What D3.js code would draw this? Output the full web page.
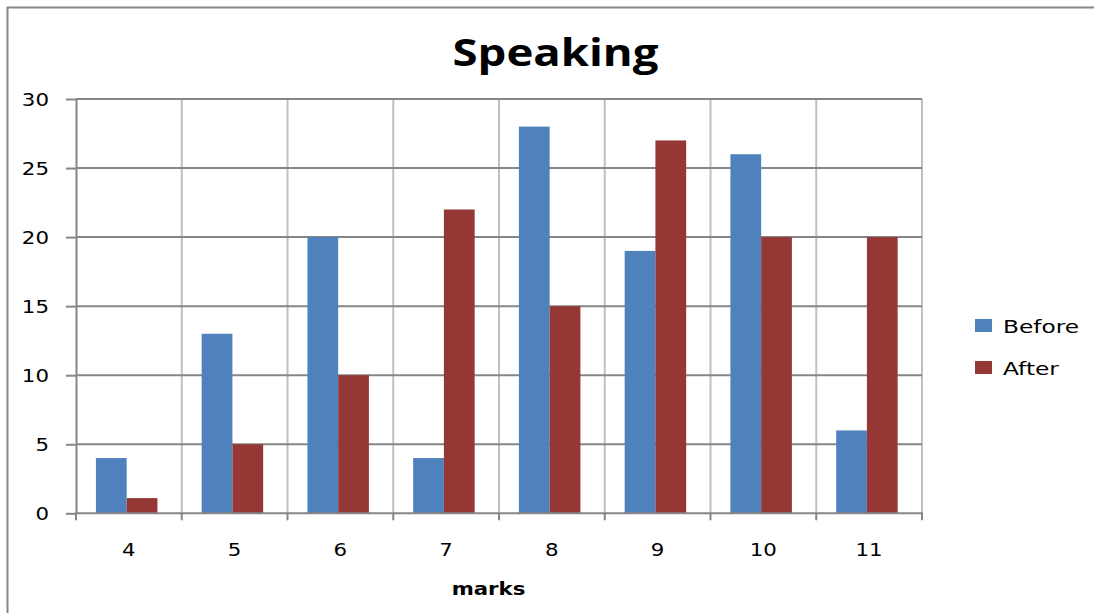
<!DOCTYPE html>
<html>
<head>
<meta charset="utf-8">
<script src="https://cdn.jsdelivr.net/npm/d3@7/dist/d3.min.js"></script>
<style>
  html, body { margin: 0; padding: 0; background: #fff; }
  svg { display: block; }
</style>
</head>
<body>
<svg id="chart" width="1094" height="613"></svg>
<script>
// Speaking marks: number of students per mark, before and after
const categories = ["4", "5", "6", "7", "8", "9", "10", "11"];
const seriesNames = ["Before", "After"];
const before = [4, 13, 20, 4, 28, 19, 26, 6];
const after = [1.1, 5, 10, 22, 15, 27, 20, 20];
const yTicks = [0, 5, 10, 15, 20, 25, 30];

const colors = { Before: "#4F81BD", After: "#953735" };
const FONT = "'DejaVu Sans', Verdana, sans-serif";
const SX = 1.22; // horizontal stretch of the label type

const svg = d3.select("#chart");
const plot = { left: 76, right: 922, top: 99, bottom: 513.3 };

// outer chart frame
svg.append("rect")
  .attr("x", 7.5).attr("y", 7.5)
  .attr("width", 1090).attr("height", 620)
  .attr("fill", "#fff")
  .attr("stroke", "#868686").attr("stroke-width", 2);

const x0 = d3.scaleBand().domain(categories).range([plot.left, plot.right]).padding(0);
const x1 = d3.scaleBand().domain(seriesNames).range([0, x0.bandwidth()])
  .paddingInner(0).paddingOuter(0.72).align(0.45);
const y = d3.scaleLinear().domain([0, 30]).range([plot.bottom, plot.top]);

// vertical gridlines at category boundaries
const bounds = categories.map(c => x0(c)).concat([plot.right]);
svg.append("g").selectAll("line").data(bounds.slice(1)).join("line")
  .attr("x1", d => d).attr("x2", d => d)
  .attr("y1", plot.top).attr("y2", plot.bottom)
  .attr("stroke", "#c0c0c0").attr("stroke-width", 2);

// horizontal gridlines
svg.append("g").selectAll("line").data(yTicks.filter(t => t > 0)).join("line")
  .attr("x1", plot.left).attr("x2", plot.right)
  .attr("y1", d => y(d)).attr("y2", d => y(d))
  .attr("stroke", "#868686").attr("stroke-width", 2);

// bars
const rows = categories.map((c, i) => ({ cat: c, values: [
  { key: "Before", value: before[i] },
  { key: "After", value: after[i] }
]}));
svg.append("g").selectAll("g").data(rows).join("g")
  .attr("transform", d => `translate(${x0(d.cat)},0)`)
  .selectAll("rect").data(d => d.values).join("rect")
  .attr("x", d => x1(d.key))
  .attr("width", x1.bandwidth())
  .attr("y", d => y(d.value))
  .attr("height", d => y(0) - y(d.value))
  .attr("fill", d => colors[d.key]);

// y axis
const yAxis = svg.append("g")
  .attr("transform", `translate(${plot.left},0)`)
  .call(d3.axisLeft(y).tickValues(yTicks).tickSize(10).tickSizeOuter(0));
yAxis.select(".domain").attr("stroke", "#868686").attr("stroke-width", 2);
yAxis.selectAll(".tick line").attr("stroke", "#868686").attr("stroke-width", 2);
yAxis.selectAll(".tick text")
  .attr("x", -27 / SX)
  .attr("dy", "0.36em")
  .attr("transform", `scale(${SX},1)`)
  .style("font-family", FONT).style("font-size", "17.5px").attr("fill", "#000");

// x axis: category labels centred in each band
const xAxis = svg.append("g")
  .attr("transform", `translate(0,${plot.bottom})`)
  .call(d3.axisBottom(x0).tickSize(0).tickSizeOuter(0).tickPadding(0));
xAxis.select(".domain").remove();
xAxis.selectAll(".tick text")
  .attr("x", 0).attr("y", 43).attr("dy", 0)
  .attr("transform", `scale(${SX},1)`)
  .style("font-family", FONT).style("font-size", "17.5px").attr("fill", "#000");

// axis line and tick marks at the category boundaries
svg.append("line")
  .attr("x1", plot.left - 1).attr("x2", plot.right + 1)
  .attr("y1", plot.bottom).attr("y2", plot.bottom)
  .attr("stroke", "#868686").attr("stroke-width", 2);
svg.append("g").selectAll("line").data(bounds).join("line")
  .attr("x1", d => d).attr("x2", d => d)
  .attr("y1", plot.bottom).attr("y2", plot.bottom + 7)
  .attr("stroke", "#868686").attr("stroke-width", 2);

// title
svg.append("text")
  .attr("transform", `translate(555.5,66) scale(1.23,1)`)
  .attr("text-anchor", "middle")
  .style("font-family", "'Open Sans', sans-serif").style("font-weight", 700)
  .style("font-size", "37px").text("Speaking");

// x axis title
svg.append("text")
  .attr("transform", `translate(488.5,595) scale(1.25,1)`)
  .attr("text-anchor", "middle")
  .style("font-family", FONT).style("font-weight", 700)
  .style("font-size", "17px").text("marks");

// legend
const legend = svg.append("g").selectAll("g").data(seriesNames).join("g")
  .attr("transform", (d, i) => `translate(975,${319 + i * 42})`);
legend.append("rect").attr("width", 17).attr("height", 13)
  .attr("fill", d => colors[d]);
legend.append("text")
  .attr("transform", "translate(28,14) scale(1.37,1)")
  .style("font-family", FONT).style("font-size", "17px")
  .text(d => d);
</script>
</body>
</html>
